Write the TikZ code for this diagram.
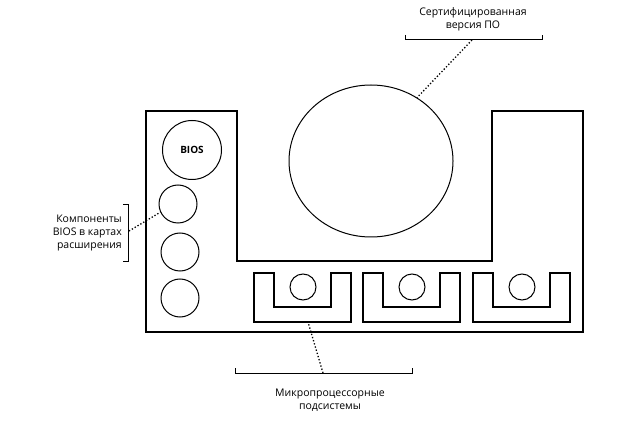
\documentclass[tikz,border=0pt]{standalone}
\usepackage{fontspec}
\setmainfont{Open Sans}
\usetikzlibrary{shapes.geometric}
\begin{document}
\begin{tikzpicture}[x=1pt,y=-1pt,
  thickline/.style={line width=2.9pt, line join=miter},
  thinc/.style={circle, draw, line width=1pt, inner sep=0pt},
  bracket/.style={line width=1pt},
  dotline/.style={line width=1.3pt, dotted},
  lbl/.style={font=\fontsize{10.5}{12.8}\selectfont, inner sep=0pt}]
\useasboundingbox (0,0) rectangle (639,427);
% main outline
\draw[thickline] (146,111) -- (237,111) -- (237,261) -- (492,261) -- (492,111) -- (583,111) -- (583,332) -- (146,332) -- cycle;
% U shapes
\foreach \x/\n in {254/1,363/2,473/3}{
  \draw[thickline] (\x,273) -- (\x,322) -- (\x+97,322) -- (\x+97,273) -- (\x+77,273) -- (\x+77,307) -- (\x+20,307) -- (\x+20,273) -- cycle;
  \node[thinc, minimum size=26pt] (u\n) at (\x+49,287) {};
  \coordinate (ub\n) at (\x+54,322);
}
% left circles
\node[thinc, minimum size=59pt, font=\fontsize{10}{12}\selectfont\bfseries] (bios) at (192,150) {BIOS};
\node[thinc, minimum size=38pt] (c1) at (178,204) {};
\node[thinc, minimum size=38pt] (c2) at (180,252) {};
\node[thinc, minimum size=38pt] (c3) at (180,298) {};
% big ellipse
\node[ellipse, draw, line width=1pt, minimum width=164pt, minimum height=152pt, inner sep=0pt] (cert) at (371,161) {};
% top bracket
\draw[bracket] (405,35) -- (405,40) -- (542,40) -- (542,35);
\coordinate (tb) at (472,40);
\node[lbl, align=center] (ttext) at (473,19) {Сертифицированная\\версия ПО};
\draw[dotline] (tb) -- (cert.54);
% left bracket
\draw[bracket] (123,205) -- (128,205) -- (128,262) -- (123,262);
\coordinate (lb) at (129,231);
\node[lbl, align=right, anchor=east] (ltext) at (122,233) {Компоненты\\BIOS в картах\\расширения};
\draw[dotline] (lb) -- (c1.205);
% bottom bracket
\draw[bracket] (235,368) -- (235,373) -- (412,373) -- (412,368);
\coordinate (bb) at (323,373);
\node[lbl, align=center] (btext) at (330,400) {Микропроцессорные\\подсистемы};
\draw[dotline] (bb) -- (ub1);
\end{tikzpicture}
\end{document}
